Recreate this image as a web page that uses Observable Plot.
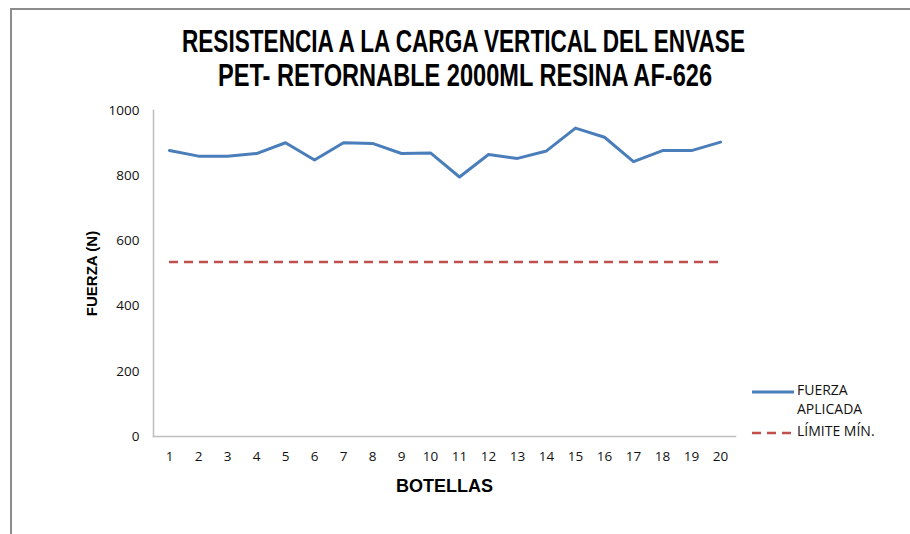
<!DOCTYPE html>
<html>
<head>
<meta charset="utf-8">
<script src="https://cdn.jsdelivr.net/npm/d3@7"></script>
<script src="https://cdn.jsdelivr.net/npm/@observablehq/plot@0.6"></script>
<style>
  html, body { margin: 0; padding: 0; background: #fff; }
  #wrap { position: relative; width: 910px; height: 534px; overflow: hidden; }
  #border { position: absolute; left: 10px; top: 8px; width: 1000px; height: 1000px;
            border-left: 2px solid #8c8c8c; border-top: 2px solid #8c8c8c; box-sizing: border-box; }
  .title { position: absolute; left: 0; white-space: nowrap; font-family: "Liberation Sans Narrow", "Liberation Sans", sans-serif;
           font-weight: bold; font-size: 31.5px; color: #000; transform-origin: 0 0; line-height: 1; }
  .leg { position: absolute; font-family: "Open Sans", Lato, sans-serif; font-size: 14px; color: #111; line-height: 1; }
  #plot { position: absolute; left: 0; top: 0; }
</style>
</head>
<body>
<div id="wrap">
  <div id="border"></div>
  <div id="plot"></div>
</div>
<script>
const botellas = [1,2,3,4,5,6,7,8,9,10,11,12,13,14,15,16,17,18,19,20];
const fuerza = [877,860,860,868,901,848,901,899,868,870,796,865,853,876,946,918,843,877,877,903];
const limiteMin = 535;
const yTicks = [0,200,400,600,800,1000];
const titulo1 = "RESISTENCIA A LA CARGA VERTICAL DEL ENVASE";
const titulo2 = "PET- RETORNABLE 2000ML RESINA AF-626";
const ejeX = "BOTELLAS";
const ejeY = "FUERZA (N)";
const serie1 = ["FUERZA", "APLICADA"];
const serie2 = "LÍMITE MÍN.";

const data = botellas.map((b, i) => ({b, f: fuerza[i]}));

const chart = Plot.plot({
  width: 910, height: 534,
  marginLeft: 153, marginRight: 175, marginTop: 110, marginBottom: 98,
  style: {fontFamily: "'Open Sans', Lato, sans-serif", fontSize: "13.5px", color: "#111", background: "transparent"},
  x: {type: "point", domain: botellas, padding: 0.5, label: null, tickSize: 0, tickPadding: 15},
  y: {domain: [0, 1000], ticks: yTicks, tickFormat: d => String(d), label: null, tickSize: 0, tickPadding: 14},
  marks: [
    Plot.frame({anchor: "left", stroke: "#bdbdbd", strokeWidth: 1.5}),
    Plot.frame({anchor: "bottom", stroke: "#bdbdbd", strokeWidth: 1.5}),
    Plot.ruleY([limiteMin], {x1: botellas[0], x2: botellas[botellas.length - 1], stroke: "#C0504D", strokeWidth: 2.5, strokeDasharray: "9,6"}),
    Plot.line(data, {x: "b", y: "f", stroke: "#4A7EBB", strokeWidth: 3, strokeLinejoin: "round"}),
    Plot.text([ejeX], {frameAnchor: "bottom", dy: 55, fontSize: 18, fontWeight: "bold", fill: "#000",
      fontFamily: "'Liberation Sans', Arial, sans-serif"}),
    Plot.text([ejeY], {frameAnchor: "left", dx: -61, rotate: -90, textAnchor: "middle", fontSize: 15, fontWeight: "bold", fill: "#000",
      fontFamily: "'Liberation Sans', Arial, sans-serif"})
  ]
});
document.getElementById("plot").appendChild(chart);

const wrap = document.getElementById("wrap");
function addTitle(text, top, x0, x1) {
  const d = document.createElement("div");
  d.className = "title";
  d.textContent = text;
  d.style.top = top + "px";
  wrap.appendChild(d);
  const w = d.getBoundingClientRect().width;
  const target = x1 - x0;
  d.style.left = x0 + "px";
  d.style.transform = `scaleX(${target / w})`;
}
addTitle(titulo1, 26, 182, 745);
addTitle(titulo2, 60, 218, 712);

// legend
function legItem(y, dash, color, lines) {
  const s = document.createElementNS("http://www.w3.org/2000/svg", "svg");
  s.setAttribute("width", 44); s.setAttribute("height", 6);
  s.style.position = "absolute"; s.style.left = "751px"; s.style.top = (y - 3) + "px";
  const l = document.createElementNS("http://www.w3.org/2000/svg", "line");
  l.setAttribute("x1", 1); l.setAttribute("x2", 43); l.setAttribute("y1", 3); l.setAttribute("y2", 3);
  l.setAttribute("stroke", color); l.setAttribute("stroke-width", dash ? 2.5 : 3);
  if (dash) l.setAttribute("stroke-dasharray", "9,6");
  s.appendChild(l);
  wrap.appendChild(s);
  lines.forEach((t, i) => {
    const d = document.createElement("div");
    d.className = "leg";
    d.textContent = t;
    d.style.left = "797px";
    d.style.top = (y - 9 + i * 19) + "px";
    wrap.appendChild(d);
  });
}
legItem(392, false, "#4A7EBB", serie1);
legItem(433, true, "#C0504D", [serie2]);
</script>
</body>
</html>
